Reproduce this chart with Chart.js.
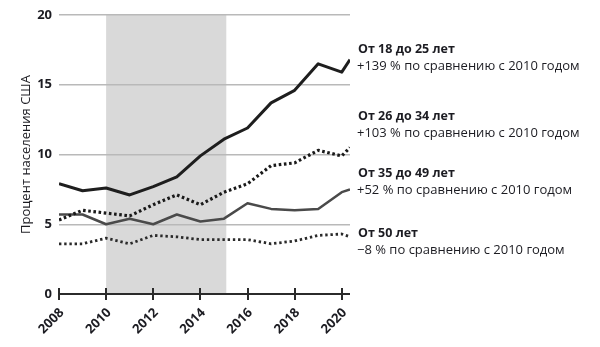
<!DOCTYPE html>
<html>
<head>
<meta charset="utf-8">
<script src="https://cdn.jsdelivr.net/npm/chart.js@4"></script>
<style>
html,body{margin:0;padding:0;background:#fff}
</style>
</head>
<body>
<canvas id="grafico" width="600" height="347"></canvas>
<script>

// годы (последняя точка — середина 2020)
let anos = [2008, 2009, 2010, 2011, 2012, 2013, 2014, 2015, 2016, 2017, 2018, 2019, 2020, 2020.35]
let anosEixo = [2008, 2010, 2012, 2014, 2016, 2018, 2020]
let ticksY = [0, 5, 10, 15, 20]

let idade18_25 = [7.9, 7.4, 7.6, 7.1, 7.7, 8.4, 9.9, 11.1, 11.9, 13.7, 14.6, 16.5, 15.9, 16.8]
let idade26_34 = [5.3, 6.0, 5.8, 5.6, 6.4, 7.1, 6.4, 7.3, 7.9, 9.2, 9.4, 10.3, 9.9, 10.5]
let idade35_49 = [5.7, 5.7, 5.0, 5.4, 5.0, 5.7, 5.2, 5.4, 6.5, 6.1, 6.0, 6.1, 7.3, 7.5]
let idade50 = [3.6, 3.6, 4.0, 3.6, 4.2, 4.1, 3.9, 3.9, 3.9, 3.6, 3.8, 4.2, 4.3, 4.1]

// период, закрашенный серым
let faixa = [2010, 2015.1]

let rotulos = [
["От 18 до 25 лет", "+139 % по сравнению с 2010 годом", 49],
["От 26 до 34 лет", "+103 % по сравнению с 2010 годом", 116],
["От 35 до 49 лет", "+52 % по сравнению с 2010 годом", 173],
["От 50 лет", "−8 % по сравнению с 2010 годом", 233]
]

let fonte = "'Open Sans', 'Noto Sans', sans-serif"
let corTexto = "#1c1c22"

function pontos(valores){
return valores.map((v,i)=>({x:anos[i], y:v}))
}

let pluginFundo = {
id:"fundo",
beforeDraw(chart){
let c = chart.ctx
let x = chart.scales.x, y = chart.scales.y
let x0 = x.getPixelForValue(faixa[0]), x1 = x.getPixelForValue(faixa[1])
c.save()
c.fillStyle = "#d9d9d9"
c.fillRect(x0, y.getPixelForValue(20), x1-x0, y.getPixelForValue(0)-y.getPixelForValue(20))
c.restore()
},
afterDraw(chart){
let c = chart.ctx
let x = chart.scales.x, y = chart.scales.y
let y0 = y.getPixelForValue(0)
c.save()
c.strokeStyle = "#2b2b2b"
c.lineWidth = 2
c.beginPath()
c.moveTo(chart.chartArea.left-1, y0)
c.lineTo(chart.chartArea.right, y0)
c.stroke()
anosEixo.forEach(a=>{
let px = Math.round(x.getPixelForValue(a))
c.beginPath()
c.moveTo(px, y0-6)
c.lineTo(px, y0+6)
c.stroke()
})
// подписи справа
let xt = chart.chartArea.right + 7
c.fillStyle = corTexto
c.textBaseline = "middle"
rotulos.forEach(r=>{
c.font = "bold 12.5px " + fonte
c.fillText(r[0], xt+1, r[2])
c.font = "13px " + fonte
c.fillText(r[1], xt, r[2]+17)
})
c.restore()
}
}

let ctx = document.getElementById("grafico").getContext("2d")

let grafico = new Chart(ctx, {
type:"line",
data:{
datasets:[
{label:"От 18 до 25 лет", data:pontos(idade18_25), borderColor:"#1e1e1e", borderWidth:3},
{label:"От 26 до 34 лет", data:pontos(idade26_34), borderColor:"#1a1a1a", borderWidth:3.2, borderDash:[2.6,2.6]},
{label:"От 35 до 49 лет", data:pontos(idade35_49), borderColor:"#4a4a4a", borderWidth:2.5},
{label:"От 50 лет", data:pontos(idade50), borderColor:"#2a2a2a", borderWidth:2.8, borderDash:[2.4,2.8]}
]
},
options:{
responsive:false,
animation:false,
devicePixelRatio:1,
elements:{point:{radius:0}, line:{tension:0, borderJoinStyle:"round"}},
layout:{padding:{top:15, right:250, left:0, bottom:0}},
plugins:{legend:{display:false}, tooltip:{enabled:false}},
scales:{
x:{
type:"linear",
min:2008,
max:2020.35,
afterBuildTicks(s){ s.ticks = anosEixo.map(v=>({value:v})) },
afterFit(s){ s.height = 53 },
grid:{display:false},
border:{display:false},
ticks:{minRotation:45, maxRotation:45, padding:3, labelOffset:3, color:corTexto, font:{family:fonte, size:13, weight:"bold"}, callback:v=>String(v)}
},
y:{
min:0,
max:20,
afterBuildTicks(s){ s.ticks = ticksY.map(v=>({value:v})) },
afterFit(s){ s.width = 59 },
border:{display:false},
grid:{drawTicks:false, lineWidth:1.5, color:c=>c.tick && c.tick.value===0 ? "rgba(0,0,0,0)" : "#b9b9b9"},
ticks:{padding:7, color:corTexto, font:{family:fonte, size:13, weight:"bold"}},
title:{display:true, text:"Процент населения США", color:corTexto, padding:{top:18, bottom:0}, font:{family:fonte, size:13}}
}
}
},
plugins:[pluginFundo]
})

</script>
</body>
</html>
